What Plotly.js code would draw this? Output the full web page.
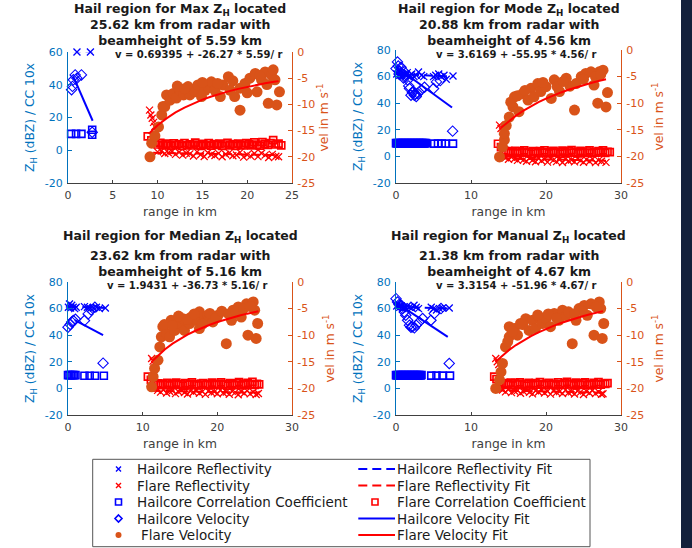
<!DOCTYPE html>
<html><head><meta charset="utf-8">
<script src="https://cdn.plot.ly/plotly-3.0.1.min.js"></script>
<style>html,body{margin:0;padding:0;background:#fff}#chart{width:692px;height:548px}</style>
</head><body><div id="chart"></div>
<script>
// ---------------- Panel 1: Max Z_H ----------------
const maxHailReflRange = [0.4, 0.7, 1.0, 1.3, 1.6, 2.5, 2.8];
const maxHailRefl = [60.5, 61, 60, 61, 60.5, 60, 60.5];
const maxHailReflFitRange = [0.4, 2.8];
const maxHailReflFit = [60.6, 60.4];
const maxHailCCRange = [0.35, 0.9, 1.5, 2.7, 2.7];
const maxHailCC = [10, 10, 10, 9.5, 12.5];
const maxHailVelRange = [0.4, 0.5, 0.6, 0.8, 1.0, 1.5, 2.7];
const maxHailVel = [37, 39, 43, 46, 44, 46, 11];
const maxHailVelFitRange = [0.6, 2.75];
const maxHailVelFit = [45, 18];
const maxFlareReflRange = [9.1, 9.25, 9.4, 9.55, 9.7, 10.0, 10.4, 10.8, 11.2, 11.6, 12.0, 12.4, 12.8, 13.2, 13.6, 14.0, 14.4, 14.8, 15.2, 15.6, 16.0, 16.4, 16.8, 17.2, 17.6, 18.0, 18.4, 18.8, 19.2, 19.6, 20.0, 20.4, 20.8, 21.2, 21.6, 22.0, 22.4, 22.8, 23.2, 23.5];
const maxFlareRefl = [24.5, 21.5, 19.5, 17.0, 14.5, -1.0, -0.5, -2.0, -1.5, -0.8, -2.5, -1.2, -3.0, -1.8, -2.2, -3.5, -1.0, -2.8, -3.8, -1.5, -2.6, -3.2, -1.9, -4.0, -2.4, -1.6, -3.4, -2.9, -1.3, -4.2, -2.7, -3.6, -2.0, -3.9, -1.8, -3.0, -4.4, -2.5, -3.7, -4.0];
const maxFlareReflFitRange = [9.5, 23.5];
const maxFlareReflFit = [-1.5, -3.0];
const maxFlareCCRange = [8.9, 9.3, 9.7, 10.0, 10.3, 10.6, 10.9, 11.2, 11.5, 11.8, 12.1, 12.4, 12.7, 13.0, 13.3, 13.6, 13.9, 14.2, 14.5, 14.8, 15.1, 15.4, 15.7, 16.0, 16.3, 16.6, 16.9, 17.2, 17.5, 17.8, 18.1, 18.4, 18.7, 19.0, 19.3, 19.6, 19.9, 20.2, 20.5, 20.8, 21.1, 21.4, 21.7, 22.0, 22.3, 22.6, 22.9, 23.2, 23.5, 23.8];
const maxFlareCC = [8.5, 6.0, 5.0, 3.5, 4.5, 3.0, 4.0, 3.5, 2.8, 4.2, 3.2, 3.8, 2.6, 4.4, 3.0, 3.6, 2.9, 4.6, 3.4, 2.7, 3.9, 3.1, 4.3, 2.8, 3.7, 3.2, 4.0, 2.6, 3.5, 4.5, 3.0, 3.8, 2.7, 4.1, 3.3, 2.9, 4.4, 3.6, 3.0, 4.8, 3.4, 2.8, 5.0, 3.9, 3.2, 4.3, 6.2, 3.5, 4.0, 3.0];
const maxFlareVelRange = [9.15, 9.34, 9.7, 10.1, 10.46, 10.6, 10.8, 11.0, 11.4, 11.75, 12.1, 12.5, 12.9, 13.4, 13.6, 14.2, 14.5, 14.9, 15.3, 15.7, 16.0, 16.4, 17.0, 17.3, 17.9, 18.1, 18.6, 19.2, 19.2, 19.75, 20.3, 20.9, 21.1, 21.6, 22.0, 22.35, 22.7, 22.9, 23.1, 23.3, 23.6, 12.2, 13.0, 15.0, 16.7, 18.4, 20.0, 21.4, 22.2];
const maxFlareVel = [-20.0, -17.4, -16.0, -14.3, -12.0, -10.4, -10.4, -8.2, -9.2, -7.9, -8.8, -7.3, -8.2, -6.6, -8.2, -7.6, -6.3, -8.5, -7.3, -6.8, -5.7, -7.3, -8.5, -6.3, -4.7, -7.3, -8.5, -11.1, -6.9, -6.0, -5.0, -4.1, -7.6, -5.3, -3.8, -9.8, -4.4, -3.4, -5.3, -10.1, -7.6, -6.5, -7.0, -5.8, -6.0, -5.5, -7.8, -4.5, -6.2];
const maxFlareVelFitRange = [9, 10, 11, 12, 13, 14, 15, 16, 17, 18, 19, 20, 21, 22, 23, 23.5];
const maxFlareVelFit = [-15.62, -13.99, -12.66, -11.54, -10.60, -9.80, -9.10, -8.48, -7.94, -7.47, -7.04, -6.65, -6.30, -5.98, -5.69, -5.56];

// ---------------- Panel 2: Mode Z_H ----------------
const modeHailReflRange = [0.1, 0.3, 0.5, 0.7, 0.9, 1.1, 1.3, 1.5, 1.7, 1.9, 2.1, 2.4, 2.7, 3.0, 3.4, 3.7, 5.0, 5.3, 5.7, 6.0, 6.4, 6.7, 7.6];
const modeHailRefl = [62, 64, 61, 63, 60, 62, 61, 63, 60, 61, 62, 60, 61, 63.5, 61, 60, 60, 61, 62, 60, 61, 58, 60.5];
const modeHailReflFitRange = [0, 7.6];
const modeHailReflFit = [62, 60];
const modeHailCCRange = [0.0, 0.1, 0.2, 0.3, 0.4, 0.5, 0.6, 0.7, 0.8, 0.9, 1.0, 1.1, 1.2, 1.3, 1.4, 1.5, 1.6, 1.7, 1.8, 1.9, 2.0, 2.1, 2.2, 2.3, 2.4, 2.5, 2.6, 2.7, 2.8, 2.9, 3.0, 3.1, 3.2, 3.3, 3.4, 3.5, 3.6, 3.7, 3.8, 3.9, 4.0, 5.1, 5.6, 6.1, 6.6, 7.6];
const modeHailCC = [10, 9.8, 10.1, 9.9, 10, 9.7, 10, 9.9, 10.1, 9.8, 10, 9.9, 10, 9.7, 10.1, 9.9, 10, 9.8, 10, 9.9, 10.1, 9.8, 10, 9.9, 10, 9.7, 10, 9.9, 10.1, 9.8, 10, 9.9, 10, 9.7, 10.1, 9.9, 10, 9.8, 10, 9.9, 10, 9.6, 9.6, 9.6, 9.6, 9.6];
const modeHailVelRange = [0.0, 0.2, 0.3, 0.4, 0.5, 0.67, 0.8, 1.0, 1.1, 1.3, 1.56, 1.7, 1.8, 2.0, 2.2, 2.3, 2.45, 2.6, 2.7, 2.9, 3.33, 3.8, 5.0, 5.4, 5.9, 7.55];
const modeHailVel = [66, 71, 68, 62, 64, 67, 62, 59, 63.6, 60, 57.4, 53, 51, 46, 48, 49, 46, 47, 45, 47.3, 50, 52, 51, 56, 57, 19];
const modeHailVelFitRange = [0, 7.47];
const modeHailVelFit = [67.4, 36.8];
const modeFlareReflRange = [13.8, 14.0, 14.2, 14.6, 15.0, 15.4, 15.8, 16.2, 16.6, 17.0, 17.4, 17.8, 18.2, 18.6, 19.0, 19.4, 19.8, 20.2, 20.6, 21.0, 21.4, 21.8, 22.2, 22.6, 23.0, 23.4, 23.8, 24.2, 24.6, 25.0, 25.4, 25.8, 26.2, 26.6, 27.0, 27.4, 28.0];
const modeFlareRefl = [23.5, 21.0, 19.0, -1.0, -2.2, -0.6, -1.8, -3.0, -1.4, -2.6, -3.6, -1.2, -2.9, -4.0, -1.7, -3.3, -2.1, -4.3, -1.5, -2.8, -3.9, -2.3, -4.6, -1.9, -3.5, -2.7, -4.1, -1.6, -3.1, -4.4, -2.4, -3.8, -2.0, -4.7, -3.0, -3.6, -4.5];
const modeFlareReflFitRange = [14, 28];
const modeFlareReflFit = [-1.5, -3.2];
const modeFlareCCRange = [13.6, 14.0, 14.4, 14.7, 15.0, 15.3, 15.6, 15.9, 16.2, 16.5, 16.8, 17.1, 17.4, 17.7, 18.0, 18.3, 18.6, 18.9, 19.2, 19.5, 19.8, 20.1, 20.4, 20.7, 21.0, 21.3, 21.6, 21.9, 22.2, 22.5, 22.8, 23.1, 23.4, 23.7, 24.0, 24.3, 24.6, 24.9, 25.2, 25.5, 25.8, 26.1, 26.4, 26.7, 27.0, 27.3, 27.6, 27.9, 28.2, 28.5];
const modeFlareCC = [9.5, 7.0, 4.5, 3.0, 4.0, 2.5, 3.5, 4.2, 2.2, 3.8, 3.0, 4.5, 2.6, 3.4, 2.0, 4.0, 3.2, 2.4, 3.9, 2.8, 4.6, 3.1, 2.3, 3.6, 4.1, 2.7, 3.3, 2.1, 4.4, 3.0, 2.5, 3.8, 4.8, 2.9, 3.5, 2.2, 4.2, 3.1, 2.6, 3.7, 4.5, 2.4, 3.3, 2.8, 4.0, 3.0, 4.6, 2.7, 3.5, 3.2];
const modeFlareVelRange = [13.8, 14.2, 14.45, 14.45, 14.7, 15.1, 15.6, 15.8, 16.4, 16.9, 17.6, 18.0, 18.4, 18.9, 19.3, 20.0, 20.7, 21.1, 21.8, 22.7, 23.2, 23.8, 24.0, 24.7, 25.3, 26.0, 26.4, 26.9, 27.1, 27.6, 28.0, 28.2, 15.3, 16.2, 17.2, 19.6, 21.5, 22.3, 25.0, 26.6, 27.3];
const modeFlareVel = [-20.1, -18.2, -16.9, -15.7, -14.2, -12.6, -10.7, -8.8, -11.6, -8.2, -9.4, -7.2, -8.8, -6.3, -7.8, -6.9, -9.1, -5.6, -7.8, -5.3, -6.8, -11.3, -6.3, -5.0, -4.4, -4.1, -6.6, -10.0, -4.1, -3.8, -10.7, -8.0, -9.8, -8.6, -7.6, -6.1, -6.9, -5.9, -5.5, -5.0, -4.6];
const modeFlareVelFitRange = [14, 15, 16, 17, 18, 19, 20, 21, 22, 23, 24, 25, 26, 27, 28];
const modeFlareVelFit = [-14.61, -13.39, -12.33, -11.39, -10.56, -9.81, -9.14, -8.53, -7.98, -7.48, -7.01, -6.59, -6.20, -5.83, -5.50];

// ---------------- Panel 3: Median Z_H ----------------
const medHailReflRange = [0.05, 0.2, 0.35, 0.5, 0.7, 0.9, 1.1, 2.2, 2.6, 3.0, 3.4, 3.8, 4.2, 5.0];
const medHailRefl = [61, 63.5, 60.5, 62.5, 61, 60, 61, 61.5, 61, 60, 60.5, 61, 60, 60.5];
const medHailReflFitRange = [0.05, 5.0];
const medHailReflFit = [61.5, 60.5];
const medHailCCRange = [0, 0.2, 0.4, 0.6, 0.8, 1.0, 2.2, 2.9, 3.6, 4.8];
const medHailCC = [10, 10, 10, 10, 10, 10, 9.5, 9.5, 9.5, 9.5];
const medHailVelRange = [0.0, 0.3, 0.5, 0.7, 1.0, 2.2, 2.7, 3.1, 3.6, 4.7];
const medHailVel = [46, 48, 50, 51, 52, 51, 56, 59, 61, 19];
const medHailVelFitRange = [0.9, 4.7];
const medHailVelFit = [51.25, 40];
const medFlareReflRange = [11.2, 11.4, 11.6, 12.0, 12.4, 12.8, 13.2, 13.6, 14.0, 14.4, 14.8, 15.2, 15.6, 16.0, 16.4, 16.8, 17.2, 17.6, 18.0, 18.4, 18.8, 19.2, 19.6, 20.0, 20.4, 20.8, 21.2, 21.6, 22.0, 22.4, 22.8, 23.2, 23.6, 24.0, 24.4, 24.8, 25.2, 25.5];
const medFlareRefl = [22.5, 20.5, 18.0, -1.5, -2.8, -1.0, -3.4, -2.2, -1.6, -3.9, -2.5, -1.3, -3.1, -4.2, -2.0, -2.9, -1.7, -3.6, -2.4, -4.5, -1.9, -3.2, -2.6, -4.0, -1.4, -3.5, -2.8, -4.4, -2.1, -3.0, -4.8, -2.3, -3.7, -1.8, -4.1, -2.7, -4.6, -3.8];
const medFlareReflFitRange = [11.2, 25.5];
const medFlareReflFit = [-1.8, -3.2];
const medFlareCCRange = [10.7, 11.1, 11.5, 11.8, 12.1, 12.4, 12.7, 13.0, 13.3, 13.6, 13.9, 14.2, 14.5, 14.8, 15.1, 15.4, 15.7, 16.0, 16.3, 16.6, 16.9, 17.2, 17.5, 17.8, 18.1, 18.4, 18.7, 19.0, 19.3, 19.6, 19.9, 20.2, 20.5, 20.8, 21.1, 21.4, 21.7, 22.0, 22.3, 22.6, 22.9, 23.2, 23.5, 23.8, 24.1, 24.4, 24.7, 25.0, 25.3, 25.6];
const medFlareCC = [8.8, 6.5, 4.2, 3.0, 3.8, 2.4, 3.5, 2.9, 4.1, 2.2, 3.6, 3.0, 4.4, 2.6, 3.3, 2.0, 3.9, 2.8, 3.4, 4.5, 2.5, 3.1, 2.2, 3.7, 4.0, 2.7, 3.2, 2.4, 4.3, 3.0, 2.6, 3.5, 4.6, 2.9, 3.3, 2.1, 4.0, 3.1, 2.5, 3.8, 4.7, 2.3, 3.6, 2.8, 4.2, 3.0, 5.0, 2.6, 3.4, 3.1];
const medFlareVelRange = [11.2, 11.4, 11.6, 12.05, 12.3, 12.5, 12.7, 13.2, 13.6, 13.8, 14.3, 15.0, 15.4, 15.6, 16.3, 16.5, 17.2, 17.6, 17.6, 18.3, 18.75, 19.4, 20.1, 21.2, 21.9, 22.1, 22.8, 23.2, 23.9, 24.8, 24.1, 25.2, 25.4, 25.0, 12.9, 14.0, 14.8, 16.0, 16.9, 18.0, 19.0, 19.8, 20.6, 21.5, 22.5, 23.5, 24.4];
const medFlareVel = [-19.7, -17.8, -16.25, -14.7, -12.2, -10.3, -8.4, -9.7, -10.3, -7.2, -9.1, -7.8, -6.9, -9.1, -7.8, -6.6, -7.2, -8.75, -5.6, -7.2, -6.25, -7.5, -6.25, -11.6, -7.2, -5.3, -4.7, -6.6, -4.1, -3.75, -10.0, -10.6, -7.8, -5.3, -8.0, -8.2, -6.4, -7.0, -6.0, -7.9, -5.9, -6.8, -5.5, -6.0, -5.6, -5.0, -4.6];
const medFlareVelFitRange = [11.3, 12, 13, 14, 15, 16, 17, 18, 19, 20, 21, 22, 23, 24, 25, 25.5];
const medFlareVelFit = [-14.83, -13.85, -12.64, -11.59, -10.69, -9.90, -9.21, -8.59, -8.03, -7.53, -7.08, -6.67, -6.30, -5.95, -5.64, -5.49];

// ---------------- Panel 4: Manual Z_H ----------------
const manHailReflRange = [0.1, 0.3, 0.5, 0.7, 0.9, 1.1, 1.3, 1.5, 1.8, 2.1, 2.4, 2.7, 3.0, 4.7, 5.0, 5.4, 5.8, 6.2, 7.1];
const manHailRefl = [62, 63.5, 61, 62, 60, 61.5, 60.5, 62, 61, 60.5, 62.5, 61, 60, 61, 60, 59, 60, 60.5, 60.5];
const manHailReflFitRange = [0.1, 7.1];
const manHailReflFit = [61.5, 60];
const manHailCCRange = [0.0, 0.1, 0.2, 0.3, 0.4, 0.5, 0.6, 0.7, 0.8, 0.9, 1.0, 1.1, 1.2, 1.3, 1.4, 1.5, 1.6, 1.7, 1.8, 1.9, 2.0, 2.1, 2.2, 2.3, 2.4, 2.5, 2.6, 2.7, 2.8, 2.9, 3.0, 3.1, 3.2, 3.3, 3.4, 4.7, 5.4, 6.2, 7.2];
const manHailCC = [10, 9.8, 10.1, 9.9, 10, 9.7, 10, 9.9, 10.1, 9.8, 10, 9.9, 10, 9.7, 10.1, 9.9, 10, 9.8, 10, 9.9, 10.1, 9.8, 10, 9.9, 10, 9.7, 10, 9.9, 10.1, 9.8, 10, 9.9, 10, 9.7, 10.1, 9.6, 9.6, 9.6, 9.6];
const manHailVelRange = [0.0, 0.2, 0.4, 0.7, 0.9, 1.1, 1.3, 1.55, 1.8, 2.0, 2.2, 2.45, 2.7, 3.1, 3.55, 4.66, 5.1, 6.0, 7.1];
const manHailVel = [67.5, 65, 63, 62.5, 60, 57.5, 55, 51.25, 47.5, 46, 46.25, 45.5, 47.5, 50, 52.5, 51.25, 56.25, 60, 18.75];
const manHailVelFitRange = [0.2, 6.9];
const manHailVelFit = [63.75, 38.75];
const manFlareReflRange = [13.3, 13.5, 13.7, 14.2, 14.6, 15.0, 15.4, 15.8, 16.2, 16.6, 17.0, 17.4, 17.8, 18.2, 18.6, 19.0, 19.4, 19.8, 20.2, 20.6, 21.0, 21.4, 21.8, 22.2, 22.6, 23.0, 23.4, 23.8, 24.2, 24.6, 25.0, 25.4, 25.8, 26.2, 26.6, 27.0, 27.4, 27.6];
const manFlareRefl = [22.5, 20.0, 18.0, -1.2, -2.6, -0.8, -3.2, -2.0, -1.5, -3.7, -2.3, -1.1, -2.9, -4.1, -1.8, -2.7, -1.5, -3.4, -2.2, -4.3, -1.7, -3.0, -2.4, -3.8, -1.3, -3.3, -2.6, -4.2, -1.9, -2.8, -4.6, -2.1, -3.5, -1.6, -3.9, -2.5, -4.4, -4.0];
const manFlareReflFitRange = [13.3, 27.6];
const manFlareReflFit = [-1.5, -3.2];
const manFlareCCRange = [13.1, 13.4, 13.8, 14.1, 14.4, 14.7, 15.0, 15.3, 15.6, 15.9, 16.2, 16.5, 16.8, 17.1, 17.4, 17.7, 18.0, 18.3, 18.6, 18.9, 19.2, 19.5, 19.8, 20.1, 20.4, 20.7, 21.0, 21.3, 21.6, 21.9, 22.2, 22.5, 22.8, 23.1, 23.4, 23.7, 24.0, 24.3, 24.6, 24.9, 25.2, 25.5, 25.8, 26.1, 26.4, 26.7, 27.0, 27.3, 27.6, 27.9, 28.2];
const manFlareCC = [8.8, 7.0, 4.5, 3.2, 4.0, 2.6, 3.6, 4.3, 2.3, 3.9, 3.1, 4.6, 2.7, 3.5, 2.1, 4.1, 3.3, 2.5, 4.0, 2.9, 4.7, 3.2, 2.4, 3.7, 4.2, 2.8, 3.4, 2.2, 4.5, 3.1, 2.6, 3.9, 4.9, 3.0, 3.6, 2.3, 4.3, 3.2, 2.7, 3.8, 4.6, 2.5, 3.4, 2.9, 4.1, 3.1, 4.7, 2.8, 3.6, 3.3, 3.9];
const manFlareVelRange = [13.3, 13.8, 14.0, 14.2, 14.6, 15.1, 15.1, 15.8, 16.2, 16.6, 17.3, 17.75, 18.2, 18.6, 19.1, 19.5, 20.0, 20.6, 21.1, 21.7, 22.2, 23.5, 24.0, 24.4, 25.1, 25.5, 26.0, 26.4, 27.1, 27.5, 27.7, 27.3, 14.9, 15.5, 16.9, 18.9, 20.3, 21.4, 22.7, 23.0, 24.7, 26.7, 23.8];
const manFlareVel = [-20.0, -18.4, -16.9, -15.3, -12.2, -10.3, -8.4, -8.75, -10.0, -7.8, -6.9, -9.1, -7.2, -8.75, -6.6, -7.8, -6.9, -8.4, -5.9, -7.2, -5.3, -11.6, -7.2, -5.0, -4.4, -6.25, -4.1, -10.0, -3.75, -10.6, -7.8, -5.0, -11.2, -9.3, -8.0, -6.2, -6.0, -6.8, -6.3, -5.6, -5.4, -4.7, -6.0];
const manFlareVelFitRange = [13.3, 14, 15, 16, 17, 18, 19, 20, 21, 22, 23, 24, 25, 26, 27, 27.6];
const manFlareVelFit = [-14.93, -14.02, -12.86, -11.85, -10.96, -10.17, -9.46, -8.82, -8.24, -7.71, -7.24, -6.80, -6.39, -6.02, -5.67, -5.48];

// ---------------- Text, ticks ----------------
const panelTitleLine1 = ['Hail region for Max Z<sub>H</sub> located', 'Hail region for Mode Z<sub>H</sub> located', 'Hail region for Median Z<sub>H</sub> located', 'Hail region for Manual Z<sub>H</sub> located'];
const panelTitleRest = ['25.62 km from radar with<br>beamheight of 5.59 km', '20.88 km from radar with<br>beamheight of 4.56 km', '23.62 km from radar with<br>beamheight of 5.16 km', '21.38 km from radar with<br>beamheight of 4.67 km'];
const fitEquations = ['v = 0.69395 + -26.27 * 5.59/ r', 'v = 3.6169 + -55.95 * 4.56/ r', 'v = 1.9431 + -36.73 * 5.16/ r', 'v = 3.3154 + -51.96 * 4.67/ r'];
const legendNames = ['Hailcore Reflectivity', 'Flare Reflectivity', 'Hailcore Correlation Coefficient', 'Hailcore Velocity', 'Flare Velocity', 'Hailcore Reflectivity Fit', 'Flare Reflectivity Fit', 'Flare Correlation Coefficient', 'Hailcore Velocity Fit', 'Flare Velocity Fit'];
const xTicks25 = [0, 5, 10, 15, 20, 25];
const xTicks30 = [0, 10, 20, 30];
const leftTicks60 = [-20, 0, 20, 40, 60];
const leftTicks80 = [-20, 0, 20, 40, 60, 80];
const rightTicks = [-25, -20, -15, -10, -5, 0];
const tickText = v => v.map(n => String(n)); // plain hyphen minus, as in the original

// ---------------- styling ----------------
const FONT = 'DejaVu Sans';
const LEFTC = '#0072BD', RIGHTC = '#D95319', XC = '#404040', TXT = '#1a1a1a';
const BLUE = '#0000FF', RED = '#FF0000', ORANGE = '#D95319';
const W = 692, H = 548;
const px = v => v / W, py = v => 1 - v / H;

const panels = [
  {hr: [maxHailReflRange, maxHailRefl], hrf: [maxHailReflFitRange, maxHailReflFit], hc: [maxHailCCRange, maxHailCC], hv: [maxHailVelRange, maxHailVel], hvf: [maxHailVelFitRange, maxHailVelFit],
   fr: [maxFlareReflRange, maxFlareRefl], frf: [maxFlareReflFitRange, maxFlareReflFit], fc: [maxFlareCCRange, maxFlareCC], fv: [maxFlareVelRange, maxFlareVel], fvf: [maxFlareVelFitRange, maxFlareVelFit]},
  {hr: [modeHailReflRange, modeHailRefl], hrf: [modeHailReflFitRange, modeHailReflFit], hc: [modeHailCCRange, modeHailCC], hv: [modeHailVelRange, modeHailVel], hvf: [modeHailVelFitRange, modeHailVelFit],
   fr: [modeFlareReflRange, modeFlareRefl], frf: [modeFlareReflFitRange, modeFlareReflFit], fc: [modeFlareCCRange, modeFlareCC], fv: [modeFlareVelRange, modeFlareVel], fvf: [modeFlareVelFitRange, modeFlareVelFit]},
  {hr: [medHailReflRange, medHailRefl], hrf: [medHailReflFitRange, medHailReflFit], hc: [medHailCCRange, medHailCC], hv: [medHailVelRange, medHailVel], hvf: [medHailVelFitRange, medHailVelFit],
   fr: [medFlareReflRange, medFlareRefl], frf: [medFlareReflFitRange, medFlareReflFit], fc: [medFlareCCRange, medFlareCC], fv: [medFlareVelRange, medFlareVel], fvf: [medFlareVelFitRange, medFlareVelFit]},
  {hr: [manHailReflRange, manHailRefl], hrf: [manHailReflFitRange, manHailReflFit], hc: [manHailCCRange, manHailCC], hv: [manHailVelRange, manHailVel], hvf: [manHailVelFitRange, manHailVelFit],
   fr: [manFlareReflRange, manFlareRefl], frf: [manFlareReflFitRange, manFlareReflFit], fc: [manFlareCCRange, manFlareCC], fv: [manFlareVelRange, manFlareVel], fvf: [manFlareVelFitRange, manFlareVelFit]}
];

const traces = [];
panels.forEach((p, i) => {
  const xa = 'x' + (i === 0 ? '' : i + 1);
  const yl = 'y' + (i === 0 ? '' : i + 1);
  const yr = 'y' + (i + 5);
  const base = {type: 'scatter', xaxis: xa, yaxis: yl, showlegend: false, cliponaxis: false, hoverinfo: 'skip'};
  const line = (d, name, color, dash) => Object.assign({}, base, {x: d[0], y: d[1], name, mode: 'lines', line: {color, width: 2, dash}});
  const mk = (d, name, symbol, color, size, lw) => Object.assign({}, base, {x: d[0], y: d[1], name, mode: 'markers', marker: {symbol, color, size, line: {color, width: lw}}});
  traces.push(line(p.hrf, legendNames[5], BLUE, '9px,5px'));
  traces.push(line(p.frf, legendNames[6], RED, '9px,5px'));
  traces.push(mk(p.hc, legendNames[2], 'square-open', BLUE, 7, 1.6));
  traces.push(mk(p.fc, legendNames[7], 'square-open', RED, 7, 1.7));
  traces.push(mk(p.hr, legendNames[0], 'x-thin-open', BLUE, 7, 1.3));
  traces.push(mk(p.fr, legendNames[1], 'x-thin-open', RED, 7, 1.3));
  traces.push(mk(p.hv, legendNames[3], 'diamond-open', BLUE, 8, 1.1));
  traces.push(line(p.hvf, legendNames[8], BLUE, 'solid'));
  traces.push(Object.assign(mk(p.fv, legendNames[4], 'circle', ORANGE, 11, 0), {yaxis: yr}));
  traces.push(Object.assign(line(p.fvf, legendNames[9], RED, 'solid'), {yaxis: yr}));
});

// ---------------- axes ----------------
const xDom = [[px(68), px(292)], [px(396), px(621)], [px(68), px(292)], [px(396), px(621)]];
const yDom = [[py(183), py(52)], [py(183), py(50)], [py(415), py(282)], [py(415), py(282)]];
const xRange = [[0, 25], [0, 30], [0, 30], [0, 30]];
const xTv = [xTicks25, xTicks30, xTicks30, xTicks30];
const yRange = [[-20, 60], [-20, 80], [-20, 80], [-20, 80]];
const yTv = [leftTicks60, leftTicks80, leftTicks80, leftTicks80];
const rightStandoff = [5, 11, 11, 11];
const eqShift = [-2, -4, -3, -3];

const layout = {
  width: W, height: H,
  margin: {l: 0, r: 0, t: 0, b: 0},
  paper_bgcolor: '#ffffff', plot_bgcolor: 'rgba(0,0,0,0)',
  font: {family: FONT, color: TXT},
  showlegend: false,
  annotations: [], shapes: []
};
for (let i = 0; i < 4; i++) {
  const sfx = i === 0 ? '' : String(i + 1);
  layout['xaxis' + sfx] = {
    domain: xDom[i], range: xRange[i], anchor: 'y' + sfx,
    tickmode: 'array', tickvals: xTv[i], ticktext: tickText(xTv[i]),
    showline: true, linecolor: XC, linewidth: 1, ticks: 'inside', ticklen: 3, tickcolor: XC,
    showgrid: false, zeroline: false, ticklabelstandoff: 2,
    tickfont: {family: FONT, size: 11, color: XC},
    title: {text: 'range in km', font: {family: FONT, size: 12.3, color: XC}, standoff: 6}
  };
  layout['yaxis' + sfx] = {
    domain: yDom[i], range: yRange[i], anchor: 'x' + sfx, side: 'left',
    tickmode: 'array', tickvals: yTv[i], ticktext: tickText(yTv[i]),
    showline: true, linecolor: LEFTC, linewidth: 1, ticks: 'inside', ticklen: 4, tickcolor: LEFTC,
    showgrid: false, zeroline: false, ticklabelstandoff: 2,
    tickfont: {family: FONT, size: 11, color: LEFTC},
    title: {text: 'Z<sub>H</sub> (dBZ) / CC 10x', font: {family: FONT, size: 12.3, color: LEFTC}, standoff: 7}
  };
  layout['yaxis' + (i + 5)] = {
    overlaying: 'y' + sfx, anchor: 'x' + sfx, side: 'right', range: [-25, 0],
    tickmode: 'array', tickvals: rightTicks, ticktext: tickText(rightTicks),
    showline: true, linecolor: RIGHTC, linewidth: 1, ticks: 'inside', ticklen: 4, tickcolor: RIGHTC,
    showgrid: false, zeroline: false, ticklabelstandoff: 2,
    tickfont: {family: FONT, size: 11, color: RIGHTC},
    title: {text: 'vel in m s<sup>-1</sup>', font: {family: FONT, size: 12.3, color: RIGHTC}, standoff: rightStandoff[i]}
  };
  const top = i < 2;
  layout.annotations.push(top ? {
    xref: 'x' + sfx + ' domain', x: 0.5, yref: 'paper', y: 1, yshift: 1,
    xanchor: 'center', yanchor: 'top', showarrow: false,
    text: '<b>' + panelTitleLine1[i] + '</b>', font: {family: FONT, size: 12.5, color: TXT}
  } : {
    xref: 'x' + sfx + ' domain', x: 0.5, yref: 'paper', y: py(236),
    xanchor: 'center', yanchor: 'middle', showarrow: false,
    text: '<b>' + panelTitleLine1[i] + '</b>', font: {family: FONT, size: 12.5, color: TXT}
  });
  layout.annotations.push({
    xref: 'x' + sfx + ' domain', x: 0.5, yref: 'paper', y: top ? py(32.5) : py(263.3),
    xanchor: 'center', yanchor: 'middle', showarrow: false,
    text: '<b>' + panelTitleRest[i] + '</b>', font: {family: FONT, size: 12.5, color: TXT}
  });
  layout.annotations.push({
    xref: 'x' + sfx, x: 5, yref: 'y' + sfx + ' domain', y: 1, yshift: eqShift[i],
    xanchor: 'left', yanchor: 'middle', showarrow: false,
    text: '<b>' + fitEquations[i] + '</b>', font: {family: FONT, size: 10, color: TXT}
  });
}

// dark strip at right edge
layout.shapes.push({type: 'rect', xref: 'paper', yref: 'paper', x0: px(681), x1: 1, y0: 0, y1: 1, fillcolor: '#13203b', line: {width: 0}, layer: 'below'});

// ---------------- legend box (drawn manually, MATLAB style) ----------------
layout.shapes.push({type: 'rect', xref: 'paper', yref: 'paper', x0: px(92.7), x1: px(590), y0: py(546.7), y1: py(459.3), line: {color: '#555555', width: 1}, fillcolor: 'rgba(255,255,255,0)'});
const rowY = [469, 485.5, 502, 518.5, 535];
const c1 = 118.5, c2a = 358.3, c2b = 395;
const xPath = (cx, cy) => `M ${px(cx - 2.5)} ${py(cy - 2.5)} L ${px(cx + 2.5)} ${py(cy + 2.5)} M ${px(cx - 2.5)} ${py(cy + 2.5)} L ${px(cx + 2.5)} ${py(cy - 2.5)}`;
const sq = (cx, cy, color) => ({type: 'rect', xref: 'paper', yref: 'paper', x0: px(cx - 3), x1: px(cx + 3), y0: py(cy + 3), y1: py(cy - 3), line: {color, width: 1.6}});
layout.shapes.push({type: 'path', xref: 'paper', yref: 'paper', path: xPath(c1, rowY[0]), line: {color: BLUE, width: 1.4}});
layout.shapes.push({type: 'path', xref: 'paper', yref: 'paper', path: xPath(c1, rowY[1]), line: {color: RED, width: 1.4}});
layout.shapes.push(sq(c1, rowY[2], BLUE));
layout.shapes.push({type: 'path', xref: 'paper', yref: 'paper', path: `M ${px(c1)} ${py(rowY[3] - 3.5)} L ${px(c1 + 3.5)} ${py(rowY[3])} L ${px(c1)} ${py(rowY[3] + 3.5)} L ${px(c1 - 3.5)} ${py(rowY[3])} Z`, line: {color: BLUE, width: 1.6}});
layout.shapes.push({type: 'circle', xref: 'paper', yref: 'paper', x0: px(c1 - 3), x1: px(c1 + 3), y0: py(rowY[4] + 3), y1: py(rowY[4] - 3), fillcolor: ORANGE, line: {width: 0}});
const lineShape = (cy, color, dash) => ({type: 'line', xref: 'paper', yref: 'paper', x0: px(c2a), x1: px(c2b), y0: py(cy), y1: py(cy), line: {color, width: 2, dash}});
layout.shapes.push(lineShape(rowY[0], BLUE, '9px,5px'));
layout.shapes.push(lineShape(rowY[1], RED, '9px,5px'));
layout.shapes.push(sq(375, rowY[2], RED));
layout.shapes.push(lineShape(rowY[3], BLUE, 'solid'));
layout.shapes.push(lineShape(rowY[4], RED, 'solid'));
const legText = (x, y, t) => ({xref: 'paper', yref: 'paper', x: px(x), y: py(y), xanchor: 'left', yanchor: 'middle', showarrow: false, text: t, font: {family: FONT, size: 13.5, color: TXT}});
for (let r = 0; r < 5; r++) {
  layout.annotations.push(legText(r === 4 ? 138.7 : 134.7, rowY[r], legendNames[r]));
  layout.annotations.push(legText(394.7, rowY[r], legendNames[5 + r]));
}

Plotly.newPlot('chart', traces, layout, {staticPlot: true, displayModeBar: false});
</script></body></html>
